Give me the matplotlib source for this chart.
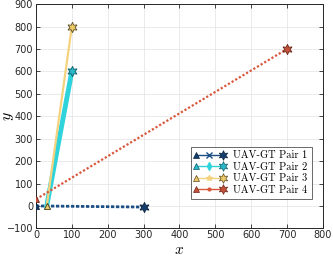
import matplotlib
matplotlib.use("Agg")
import matplotlib.pyplot as plt
from matplotlib.legend_handler import HandlerBase
from matplotlib.lines import Line2D

plt.rcParams['mathtext.fontset'] = 'cm'

labels = ["UAV-GT Pair 1", "UAV-GT Pair 2", "UAV-GT Pair 3", "UAV-GT Pair 4"]
start_x = [0, 30, 30, 0]
start_y = [0, 0, 0, 30]
end_x = [300, 100, 100, 700]
end_y = [-5, 600, 800, 700]

line_colors = ['#1b4f86', '#2fd3dc', '#f5d27e', '#d9583c']
face_colors = ['#143d6b', '#2ab8c8', '#ecc867', '#c4513a']
edge_colors = ['#0a2340', '#0d5e6a', '#5a4a20', '#6b2518']
line_widths = [2.0, 3.5, 1.6, 1.6]
line_styles = [(0, (1.2, 0.6)), '-', '-', (0, (1.0, 0.9))]
legend_mid = ['x', 'd', '*', '.']

fig = plt.figure(figsize=(3.33, 2.56), dpi=100)
ax = fig.add_axes([0.108, 0.108, 0.862, 0.876])

for i in range(4):
    ax.plot([start_x[i], end_x[i]], [start_y[i], end_y[i]], color=line_colors[i],
            lw=line_widths[i], ls=line_styles[i], zorder=2 + i * 0.1)
for i in range(4):
    ax.plot(start_x[i], start_y[i], marker='^', ms=5, mfc=face_colors[i],
            mec=edge_colors[i], mew=0.6, ls='none', zorder=5)
    ax.plot(end_x[i], end_y[i], marker=(6, 1, 0), ms=7.5, mfc=face_colors[i],
            mec=edge_colors[i], mew=0.6, ls='none', zorder=5)

ax.set_xlim(0, 800)
ax.set_ylim(-100, 900)
ax.set_xticks(range(0, 801, 100))
ax.set_yticks(range(-100, 901, 100))
ax.grid(True, color='#e6e6e6', lw=0.6)
ax.set_axisbelow(True)
ax.tick_params(direction='in', length=3, width=0.6, labelsize=7, colors='#262626',
               top=True, right=True, pad=2)
ax.tick_params(axis='x', pad=1.5)
for s in ax.spines.values():
    s.set_color('#262626')
    s.set_linewidth(0.7)
ax.set_xlabel('$x$', fontsize=11)
ax.set_ylabel('$y$', fontsize=11.5)
ax.xaxis.set_label_coords(0.5, -0.06)
ax.yaxis.set_label_coords(-0.068, 0.5)


class TripleHandler(HandlerBase):
    def create_artists(self, legend, orig_handle, xdescent, ydescent, width, height, fontsize, trans):
        i = orig_handle
        y = height / 2 - ydescent
        x0 = -xdescent
        x1 = x0 + width
        xm = (x0 + x1) / 2
        line = Line2D([x0, x1], [y, y], color=line_colors[i], lw=1.0)
        mid = Line2D([xm], [y], marker=legend_mid[i], ms=4, color=line_colors[i],
                     mec=line_colors[i], mfc=line_colors[i], ls='none')
        tri = Line2D([x0], [y], marker='^', ms=5, mfc=face_colors[i], mec=edge_colors[i],
                     mew=0.5, ls='none')
        star = Line2D([x1], [y], marker=(6, 1, 0), ms=7, mfc=face_colors[i],
                      mec=edge_colors[i], mew=0.5, ls='none')
        for a in (line, mid, tri, star):
            a.set_transform(trans)
        return [line, mid, tri, star]


leg = ax.legend([0, 1, 2, 3], labels, handler_map={int: TripleHandler()},
                loc='lower right', bbox_to_anchor=(0.96, 0.13),
                prop={'family': 'cmr10', 'size': 7.5},
                frameon=True, fancybox=False, edgecolor='#262626',
                handlelength=2.6, handletextpad=1.0, borderpad=0.4, labelspacing=0.2,
                borderaxespad=0)
leg.get_frame().set_linewidth(0.6)

fig.savefig('out.png', dpi=100)
